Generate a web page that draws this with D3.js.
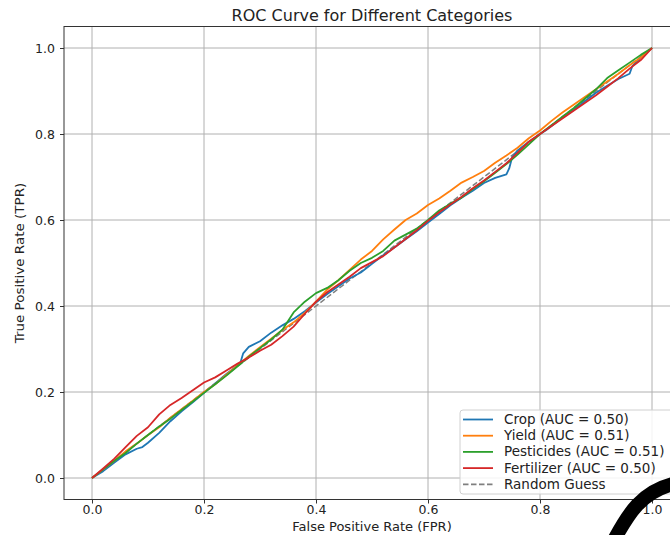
<!DOCTYPE html>
<html>
<head>
<meta charset="utf-8">
<script src="https://cdn.jsdelivr.net/npm/d3@7/dist/d3.min.js"></script>
<style>
  body { margin: 0; background: #fff; }
  text { font-family: "DejaVu Sans", sans-serif; fill: #222; }
</style>
</head>
<body>
<div id="chart"></div>
<script>
// ROC points, [fpr, tpr]
var crop = [[0,0],[.02,.016],[.04,.036],[.06,.055],[.08,.068],[.09,.072],[.10,.082],[.12,.105],[.14,.132],[.16,.155],[.18,.176],[.20,.198],[.22,.22],[.24,.242],[.26,.262],[.265,.268],[.27,.29],[.28,.305],[.30,.318],[.32,.338],[.34,.355],[.36,.37],[.38,.388],[.40,.408],[.42,.428],[.44,.446],[.46,.464],[.48,.478],[.50,.498],[.52,.518],[.54,.536],[.56,.555],[.58,.574],[.60,.594],[.62,.614],[.64,.634],[.66,.652],[.68,.668],[.70,.686],[.72,.698],[.74,.706],[.745,.72],[.75,.745],[.76,.762],[.78,.782],[.80,.800],[.81,.808],[.82,.818],[.84,.838],[.86,.856],[.88,.876],[.90,.896],[.92,.912],[.94,.928],[.96,.94],[.965,.958],[.98,.978],[1,1]];
var yieldRoc = [[0,0],[.02,.02],[.04,.04],[.06,.062],[.08,.08],[.10,.10],[.12,.118],[.14,.14],[.16,.16],[.18,.18],[.20,.20],[.22,.218],[.24,.24],[.26,.262],[.28,.284],[.30,.304],[.32,.324],[.34,.344],[.36,.362],[.38,.384],[.40,.41],[.42,.438],[.44,.46],[.46,.484],[.48,.508],[.50,.528],[.52,.555],[.54,.578],[.56,.60],[.58,.615],[.60,.635],[.62,.65],[.64,.668],[.66,.687],[.68,.70],[.70,.714],[.72,.733],[.74,.75],[.76,.768],[.78,.79],[.80,.808],[.82,.83],[.84,.85],[.86,.868],[.88,.886],[.90,.904],[.92,.922],[.94,.94],[.96,.96],[.98,.978],[1,1]];
var pesticides = [[0,0],[.02,.02],[.04,.04],[.06,.058],[.08,.08],[.10,.10],[.12,.12],[.14,.138],[.16,.158],[.18,.178],[.20,.198],[.22,.218],[.24,.238],[.26,.26],[.28,.282],[.30,.302],[.32,.322],[.34,.345],[.36,.385],[.38,.41],[.40,.43],[.42,.442],[.44,.46],[.46,.482],[.48,.50],[.50,.512],[.52,.528],[.54,.552],[.56,.566],[.58,.58],[.60,.60],[.62,.622],[.64,.638],[.66,.652],[.68,.672],[.70,.69],[.72,.71],[.74,.73],[.76,.752],[.78,.776],[.80,.80],[.82,.82],[.84,.84],[.86,.86],[.88,.882],[.90,.904],[.92,.93],[.94,.948],[.96,.966],[.98,.984],[1,1]];
var fertilizer = [[0,0],[.02,.022],[.04,.045],[.06,.072],[.08,.098],[.10,.118],[.12,.148],[.14,.17],[.16,.186],[.18,.204],[.20,.222],[.22,.234],[.24,.25],[.26,.266],[.28,.28],[.30,.296],[.32,.31],[.34,.33],[.36,.352],[.38,.382],[.40,.41],[.42,.432],[.44,.45],[.46,.468],[.48,.488],[.50,.502],[.52,.516],[.54,.536],[.56,.556],[.58,.576],[.60,.598],[.62,.618],[.64,.636],[.66,.654],[.68,.674],[.70,.692],[.72,.712],[.74,.732],[.76,.756],[.78,.782],[.80,.80],[.82,.818],[.84,.836],[.86,.854],[.88,.872],[.90,.89],[.92,.91],[.94,.93],[.96,.952],[.98,.972],[1,1]];
var randomGuess = [[0,0],[1,1]];

var seriesNames = ["Crop (AUC = 0.50)", "Yield (AUC = 0.51)", "Pesticides (AUC = 0.51)", "Fertilizer (AUC = 0.50)"];
var seriesColors = ["#1f77b4", "#ff7f0e", "#2ca02c", "#d62728"];
var ticks = [0, 0.2, 0.4, 0.6, 0.8, 1.0];

var w = 670, h = 535;
var margin = { left: 64, right: 680, top: 26.5, bottom: 499.5 };

var svg = d3.select("#chart").append("svg")
  .attr("width", w)
  .attr("height", h);

var x = d3.scaleLinear().domain([-0.05, 1.05]).range([margin.left, margin.right]);
var y = d3.scaleLinear().domain([-0.05, 1.05]).range([margin.bottom, margin.top]);

// grid
svg.append("g").selectAll("line").data(ticks).enter().append("line")
  .attr("x1", function(d) { return x(d); }).attr("x2", function(d) { return x(d); })
  .attr("y1", margin.top).attr("y2", margin.bottom)
  .attr("stroke", "#b0b0b0").attr("stroke-width", 1);
svg.append("g").selectAll("line").data(ticks).enter().append("line")
  .attr("y1", function(d) { return y(d); }).attr("y2", function(d) { return y(d); })
  .attr("x1", margin.left).attr("x2", margin.right)
  .attr("stroke", "#b0b0b0").attr("stroke-width", 1);

// axes
var xAxis = d3.axisBottom(x).tickValues(ticks).tickFormat(d3.format(".1f")).tickSizeOuter(0).tickSize(4).tickPadding(2);
var yAxis = d3.axisLeft(y).tickValues(ticks).tickFormat(d3.format(".1f")).tickSizeOuter(0).tickSize(4).tickPadding(5);

var gx = svg.append("g").attr("transform", "translate(0," + margin.bottom + ")").call(xAxis);
var gy = svg.append("g").attr("transform", "translate(" + margin.left + ",0)").call(yAxis);
[gx, gy].forEach(function(g) {
  g.select(".domain").remove();
  g.selectAll("line").attr("stroke", "#333");
  g.selectAll("text").style("font-size", "12.5px").attr("fill", "#222");
});

// spines
svg.append("rect")
  .attr("x", margin.left).attr("y", margin.top)
  .attr("width", margin.right - margin.left).attr("height", margin.bottom - margin.top)
  .attr("fill", "none").attr("stroke", "#333").attr("stroke-width", 1);

var line = d3.line()
  .x(function(d) { return x(d[0]); })
  .y(function(d) { return y(d[1]); });

// random guess
svg.append("path")
  .datum(randomGuess)
  .attr("fill", "none")
  .attr("stroke", "#7f7f7f")
  .attr("stroke-width", 1.5)
  .attr("stroke-dasharray", "5.5,2.5")
  .attr("d", line);

[crop, yieldRoc, pesticides, fertilizer].forEach(function(s, i) {
  svg.append("path")
    .datum(s)
    .attr("fill", "none")
    .attr("stroke", seriesColors[i])
    .attr("stroke-width", 1.8)
    .attr("stroke-linejoin", "round")
    .attr("d", line);
});

// title and labels
svg.append("text")
  .attr("x", (margin.left + margin.right) / 2).attr("y", 21)
  .attr("text-anchor", "middle")
  .style("font-size", "16px")
  .text("ROC Curve for Different Categories");

svg.append("text")
  .attr("x", (margin.left + margin.right) / 2).attr("y", 531)
  .attr("text-anchor", "middle")
  .style("font-size", "13px")
  .text("False Positive Rate (FPR)");

svg.append("text")
  .attr("transform", "translate(24," + (margin.top + margin.bottom) / 2 + ") rotate(-90) scale(1,0.85)")
  .attr("text-anchor", "middle")
  .style("font-size", "13.5px")
  .text("True Positive Rate (TPR)");

// legend
var legend = svg.append("g").attr("transform", "translate(460,410)");
legend.append("rect")
  .attr("width", 216).attr("height", 84)
  .attr("rx", 3)
  .attr("fill", "#fff").attr("fill-opacity", 0.85)
  .attr("stroke", "#d0d0d0");

var legendNames = seriesNames.concat(["Random Guess"]);
var legendColors = seriesColors.concat(["#7f7f7f"]);
legendNames.forEach(function(name, i) {
  var ly = 9.5 + i * 16.2;
  legend.append("line")
    .attr("x1", 3).attr("x2", 33)
    .attr("y1", ly).attr("y2", ly)
    .attr("stroke", legendColors[i])
    .attr("stroke-width", 1.8)
    .attr("stroke-dasharray", i === 4 ? "5.5,2.5" : null);
  legend.append("text")
    .attr("x", 44).attr("y", ly + 4.5)
    .style("font-size", "13.5px")
    .text(name);
});

// black pen stroke over the corner
svg.append("path")
  .attr("d", "M613,542 C626,518 640,490 678,483")
  .attr("fill", "none")
  .attr("stroke", "#000")
  .attr("stroke-width", 14)
  .attr("stroke-linecap", "round");
</script>
</body>
</html>
